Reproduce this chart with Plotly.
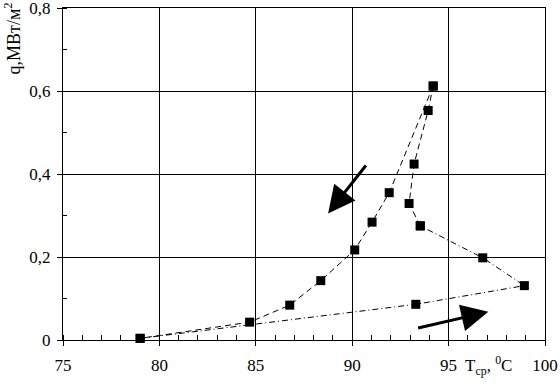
import plotly.graph_objects as go

# Heating branch (T rises along the bottom, then up the right branch)
heat_t = [79.0, 93.3, 98.93, 96.77, 93.53, 92.95, 93.21, 93.94, 94.2]
heat_q = [0.004, 0.086, 0.131, 0.198, 0.275, 0.329, 0.424, 0.553, 0.612]
# Cooling branch (down the left branch)
cool_t = [94.2, 91.92, 91.03, 90.13, 88.37, 86.76, 84.68, 79.0]
cool_q = [0.612, 0.355, 0.284, 0.217, 0.143, 0.084, 0.043, 0.004]

x_ticks = [75, 80, 85, 90, 95, 100]
x_tick_labels = ["75", "80", "85", "90", "95", "100"]
y_ticks = [0, 0.2, 0.4, 0.6, 0.8]
y_tick_labels = ["0", "0,2", "0,4", "0,6", "0,8"]

SERIF = "Liberation Serif, Times New Roman, serif"
marker = dict(symbol="square", size=9, color="black")

fig = go.Figure()
fig.add_trace(go.Scatter(x=heat_t[:5], y=heat_q[:5], mode="lines+markers",
                         line=dict(color="black", width=1, dash="6px,3px,1px,3px"),
                         marker=marker, cliponaxis=False, showlegend=False))
fig.add_trace(go.Scatter(x=heat_t[4:], y=heat_q[4:], mode="lines+markers",
                         line=dict(color="black", width=1, dash="6px,4px"),
                         marker=marker, cliponaxis=False, showlegend=False))
fig.add_trace(go.Scatter(x=cool_t, y=cool_q, mode="lines+markers",
                         line=dict(color="black", width=1, dash="6px,4px"),
                         marker=marker, cliponaxis=False, showlegend=False))

axis_common = dict(showgrid=True, gridcolor="black", gridwidth=1, automargin=False,
                   showline=True, linecolor="black", linewidth=1, mirror=True,
                   ticks="outside", ticklen=5, tickcolor="black", zeroline=False,
                   ticklabeloverflow="allow",
                   tickfont=dict(family=SERIF, size=17, color="black"))

fig.update_xaxes(range=[75, 100], tickvals=x_ticks, ticktext=x_tick_labels,
                 ticklabelstandoff=5,
                 minor=dict(ticks="inside", dtick=1, ticklen=5, tickcolor="black", showgrid=False),
                 **axis_common)
fig.update_yaxes(range=[0, 0.8], tickvals=y_ticks, ticktext=y_tick_labels,
                 ticklabelstandoff=3,
                 minor=dict(ticks="inside", dtick=0.1, ticklen=4, tickcolor="black", showgrid=False),
                 **axis_common)

annotations = [
    dict(x=97.06, y=0.068, ax=93.34, ay=0.028, xref="x", yref="y", axref="x", ayref="y",
         showarrow=True, arrowhead=2, arrowsize=1.8, arrowwidth=3, arrowcolor="black", text=""),
    dict(x=88.75, y=0.305, ax=90.77, ay=0.424, xref="x", yref="y", axref="x", ayref="y",
         showarrow=True, arrowhead=2, arrowsize=1.8, arrowwidth=3, arrowcolor="black", text=""),
    dict(text="q,МВт/м<sup>2</sup>", textangle=-90, xref="paper", yref="paper",
         x=-0.105, y=1.024, xanchor="center", yanchor="top", showarrow=False,
         font=dict(family=SERIF, size=18, color="black")),
    dict(text="T<sub>ср</sub>, <sup>0</sup>C", xref="paper", yref="paper",
         x=0.83, y=-0.078, xanchor="left", yanchor="middle", showarrow=False,
         font=dict(family=SERIF, size=17, color="black")),
]

fig.update_layout(width=560, height=390, margin=dict(l=63, r=15, t=8, b=50),
                  paper_bgcolor="white", plot_bgcolor="white",
                  annotations=annotations, showlegend=False)

fig.write_html("out.html", config={"displayModeBar": False},
               post_script="document.body.style.margin='0px';document.body.style.padding='0px';")
